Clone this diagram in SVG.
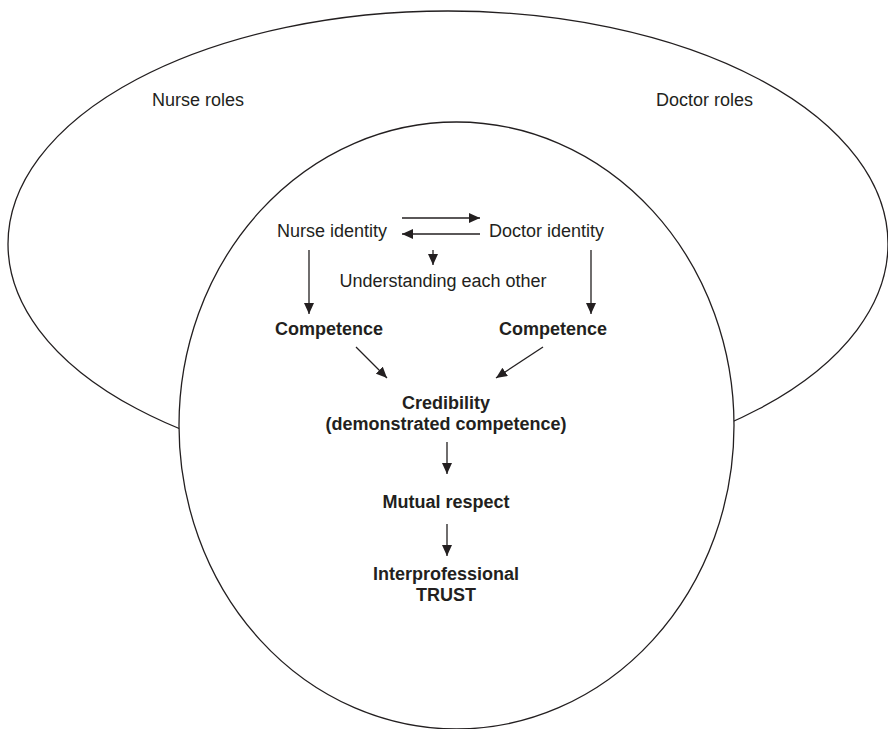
<svg xmlns="http://www.w3.org/2000/svg" width="888" height="729" viewBox="0 0 888 729">
<style>
text{font-family:"Liberation Sans",Arial,sans-serif;font-size:18px;fill:#231f20}
.b{font-weight:bold}
.m{text-anchor:middle}
.shape{fill:none;stroke:#231f20;stroke-width:1.3}
.conn line{stroke:#231f20;stroke-width:1.3;fill:none;marker-end:url(#ah)}
</style>
<defs>
<marker id="ah" markerUnits="userSpaceOnUse" markerWidth="11" markerHeight="10" refX="11" refY="5" orient="auto">
<path d="M0,0 L11,5 L0,10 z" fill="#231f20"/>
</marker>
</defs>
<g id="roles">
<ellipse class="shape" cx="448" cy="244" rx="440" ry="233"/>
<text x="152" y="106">Nurse roles</text>
<text x="656" y="106">Doctor roles</text>
</g>
<g id="overlap">
<ellipse cx="456.5" cy="425.5" rx="277.5" ry="303.5" fill="#fff" stroke="#231f20" stroke-width="1.3"/>
</g>
<g id="nurse-identity"><text x="277" y="237">Nurse identity</text></g>
<g id="doctor-identity"><text x="489" y="237">Doctor identity</text></g>
<g id="understanding"><text x="443" y="287" class="m">Understanding each other</text></g>
<g id="nurse-competence"><text x="275" y="335" class="b">Competence</text></g>
<g id="doctor-competence"><text x="499" y="335" class="b">Competence</text></g>
<g id="credibility"><text x="446" y="409" class="b m">Credibility</text><text x="446" y="430" class="b m">(demonstrated competence)</text></g>
<g id="mutual-respect"><text x="446" y="508" class="b m">Mutual respect</text></g>
<g id="trust"><text x="446" y="580" class="b m">Interprofessional</text><text x="446" y="601" class="b m">TRUST</text></g>
<g id="connectors" class="conn">
<line x1="402" y1="218" x2="480" y2="218"/>
<line x1="480" y1="234" x2="402" y2="234"/>
<line x1="433" y1="250" x2="433" y2="265"/>
<line x1="309" y1="250" x2="309" y2="314"/>
<line x1="591" y1="250" x2="591" y2="314"/>
<line x1="356" y1="347" x2="387" y2="378"/>
<line x1="543" y1="347" x2="496" y2="378"/>
<line x1="447" y1="442" x2="447" y2="474"/>
<line x1="447" y1="524" x2="447" y2="556"/>
</g>
</svg>
